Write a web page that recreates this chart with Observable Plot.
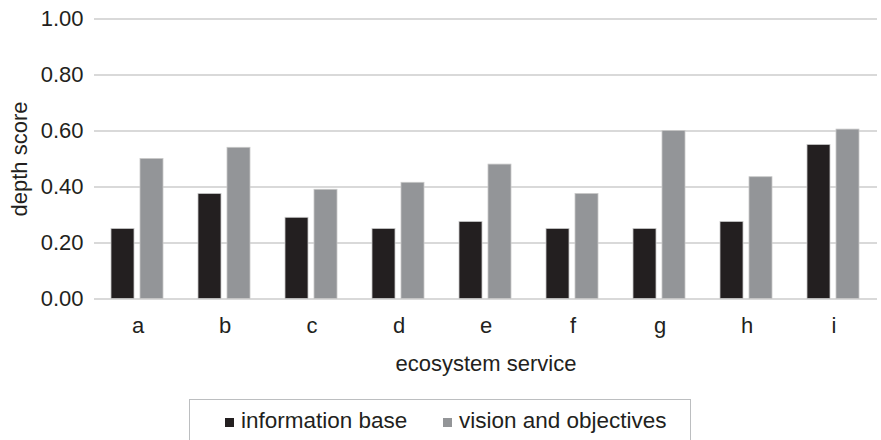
<!DOCTYPE html>
<html>
<head>
<meta charset="utf-8">
<script src="https://cdn.jsdelivr.net/npm/d3@7"></script>
<script src="https://cdn.jsdelivr.net/npm/@observablehq/plot@0.6"></script>
<style>
  html, body { margin: 0; padding: 0; background: #fff; overflow: hidden; }
  #wrap { position: relative; width: 881px; height: 440px; font-family: "Liberation Sans", Arial, sans-serif; color: #231f20; }
  #legend { position: absolute; left: 189px; top: 399px; width: 502px; height: 60px; border: 1px solid #bcbec0; box-sizing: border-box; }
  .item { position: absolute; top: 8px; font-size: 22.5px; line-height: 26px; white-space: nowrap; }
  .sw { display: inline-block; width: 9px; height: 9px; margin-right: 7px; vertical-align: 1px; }
</style>
</head>
<body>
<div id="wrap">
  <div id="chart"></div>
  <div id="legend"></div>
</div>
<script>
const categories = ["a", "b", "c", "d", "e", "f", "g", "h", "i"];
const seriesNames = ["information base", "vision and objectives"];
const informationBase = [0.25, 0.375, 0.29, 0.25, 0.275, 0.25, 0.25, 0.275, 0.55];
const visionObjectives = [0.50, 0.54, 0.39, 0.415, 0.48, 0.375, 0.60, 0.435, 0.605];
const yTicks = [0, 0.2, 0.4, 0.6, 0.8, 1.0];
const colors = ["#231f20", "#939598"];

const data = [];
categories.forEach((c, i) => {
  data.push({cat: c, series: seriesNames[0], value: informationBase[i]});
  data.push({cat: c, series: seriesNames[1], value: visionObjectives[i]});
});

const chart = Plot.plot({
  width: 881,
  height: 390,
  marginLeft: 91,
  marginRight: 1,
  marginTop: 18.5,
  marginBottom: 91.5,
  style: {fontFamily: "'Liberation Sans', Arial, sans-serif", fontSize: "22px", color: "#231f20", background: "#fff"},
  fx: {domain: categories, padding: 0},
  x: {domain: seriesNames, paddingInner: 0.2, paddingOuter: 0.6, axis: null},
  y: {domain: [0, 1]},
  color: {domain: seriesNames, range: colors},
  marks: [
    Plot.gridY(yTicks, {stroke: "#d9d9d9", strokeOpacity: 1, strokeWidth: 2}),
    Plot.barY(data, {fx: "cat", x: "series", y: "value", fill: "series", stroke: "#c8c8c8", strokeWidth: 0.8}),
    Plot.axisY(yTicks, {anchor: "left", fontSize: 22, tickSize: 0, tickPadding: 11, tickFormat: d3.format(".2f"), label: "depth score", labelAnchor: "center", labelArrow: "none", labelOffset: 83}),
    Plot.axisFx({anchor: "bottom", fontSize: 22, tickSize: 0, tickPadding: 18, label: "ecosystem service", labelAnchor: "center", labelArrow: "none", labelOffset: 72})
  ]
});
document.getElementById("chart").appendChild(chart);

const legend = document.getElementById("legend");
const lefts = [35, 253];
seriesNames.forEach((s, i) => {
  const it = document.createElement("div");
  it.className = "item";
  it.style.left = lefts[i] + "px";
  it.innerHTML = `<span class="sw" style="background:${colors[i]}"></span>${s}`;
  legend.appendChild(it);
});
</script>
</body>
</html>
